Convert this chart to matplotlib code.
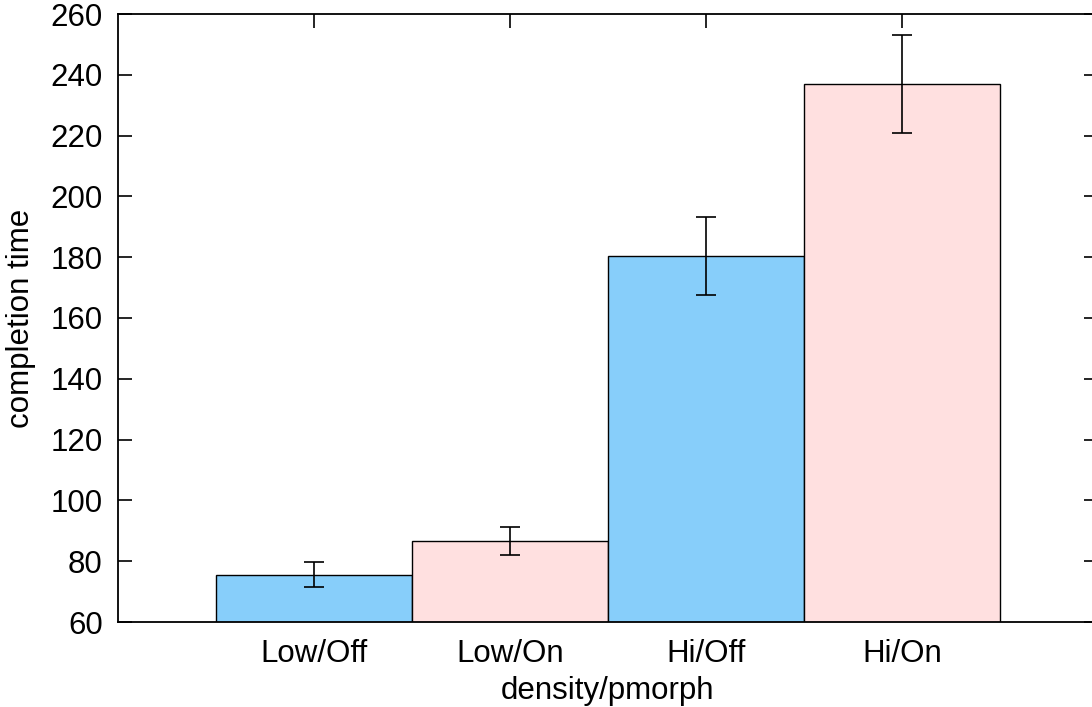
import matplotlib
matplotlib.use('Agg')
import matplotlib.pyplot as plt

plt.rcParams['font.family'] = ['Liberation Sans', 'DejaVu Sans']

# data
categories = ['Low/Off', 'Low/On', 'Hi/Off', 'Hi/On']
times = [75.6, 86.7, 180.4, 237.0]
errors = [4.0, 4.6, 12.7, 16.0]
colors = ['#87cefa', '#ffe0e0', '#87cefa', '#ffe0e0']

fig = plt.figure(figsize=(10.92, 7.07), dpi=100)
ax = fig.add_axes([118 / 1092, 85 / 707, 980 / 1092, 608 / 707])

x = list(range(len(categories)))
ax.bar(x, times, width=1.0, color=colors, edgecolor='black', linewidth=1.0,
       zorder=2)
ax.errorbar(x, times, yerr=errors, fmt='none', ecolor='black', elinewidth=1.2,
            capsize=7, capthick=1.2, zorder=3)

ax.set_xlim(-1, 4)
ax.set_ylim(60, 260)
ax.set_yticks(range(60, 261, 20))
ax.set_xticks(x)
ax.set_xticklabels(categories)

ax.tick_params(direction='in', length=10, width=1.2, labelsize=22.5,
               top=True, right=True)
ax.tick_params(axis='x', pad=12)
ax.tick_params(axis='y', pad=11)
for s in ax.spines.values():
    s.set_linewidth(1.3)

ax.set_xlabel('density/pmorph', fontsize=22.5, labelpad=5)
ax.set_ylabel('completion time', fontsize=22.5, labelpad=10)

fig.savefig('out.png', dpi=100)
